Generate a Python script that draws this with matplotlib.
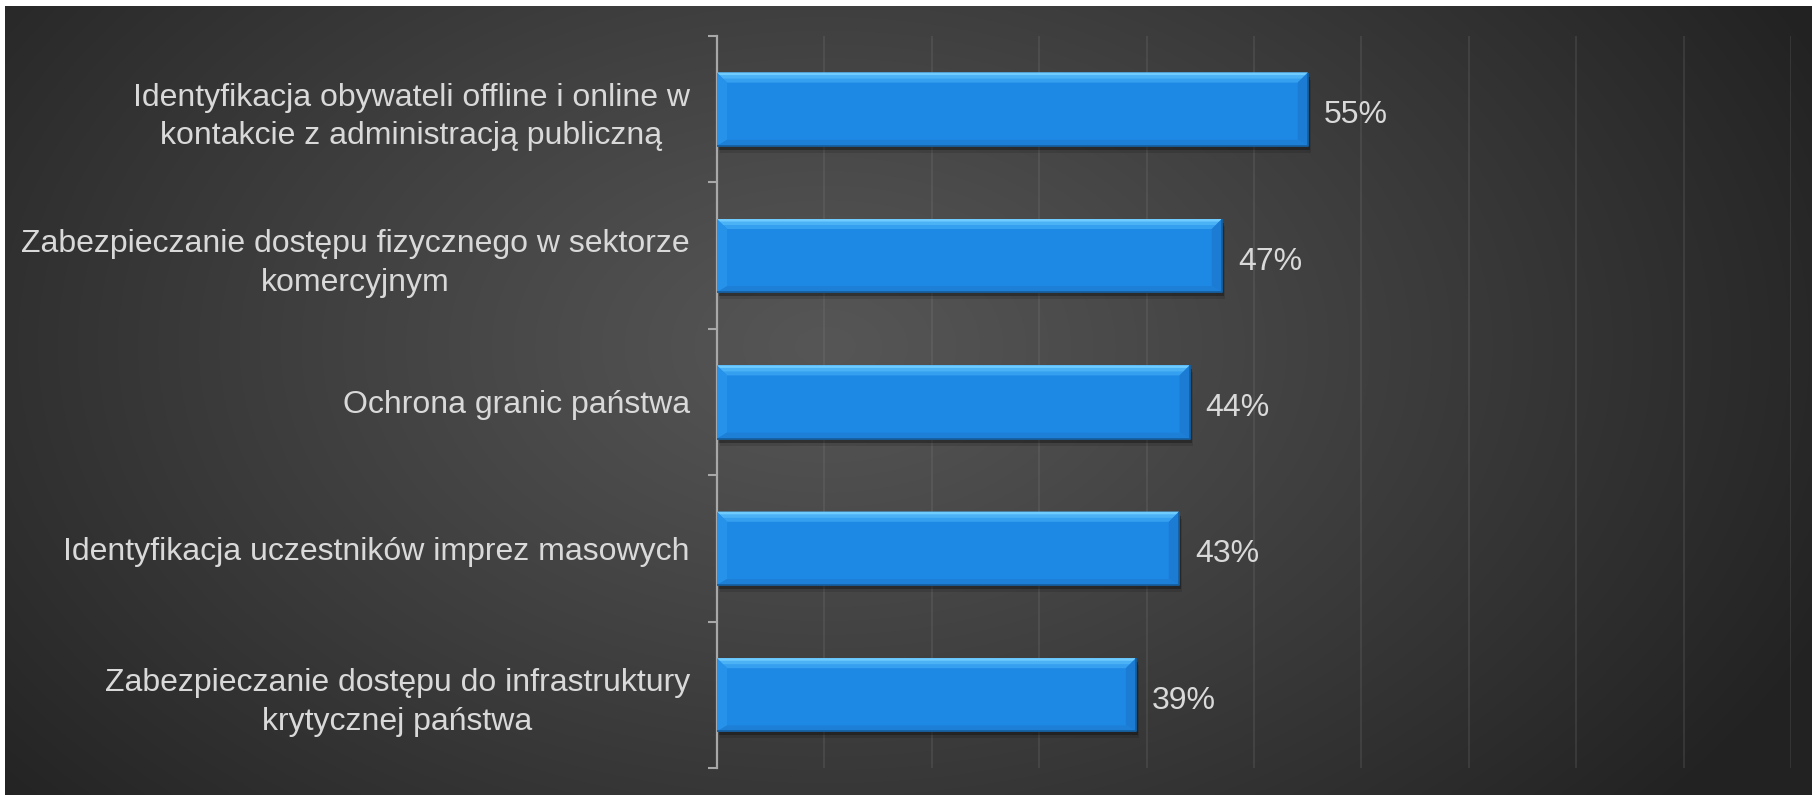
import numpy as np
import matplotlib
matplotlib.use("Agg")
import matplotlib.pyplot as plt
from matplotlib.patches import Polygon, Rectangle

categories = [
    "Identyfikacja obywateli offline i online w\nkontakcie z administracją publiczną",
    "Zabezpieczanie dostępu fizycznego w sektorze\nkomercyjnym",
    "Ochrona granic państwa",
    "Identyfikacja uczestników imprez masowych",
    "Zabezpieczanie dostępu do infrastruktury\nkrytycznej państwa",
]
values = [55, 47, 44, 43, 39]
value_labels = ["55%", "47%", "44%", "43%", "39%"]

W, H, DPI = 1812, 795, 100
plt.rcParams['font.family'] = ['Liberation Sans', 'DejaVu Sans']
fig = plt.figure(figsize=(W / DPI, H / DPI), dpi=DPI)
fig.patch.set_facecolor('white')

# background radial gradient panel
bx0, by0 = 5 / W, 0
bg = fig.add_axes([bx0, by0, 1 - bx0, (H - 6) / H])
bg.set_axis_off()
yy, xx = np.mgrid[0:H - 6, 0:W - 5]
cx, cy, rx, ry = 820.0, 340.0, 1100.0, 720.0
d = np.sqrt(((xx - cx) / rx) ** 2 + ((yy - cy) / ry) ** 2)
d = np.clip(d, 0, 1)
c = (86 - (86 - 34) * d ** 1.1) / 255.0
img = np.dstack([c, c, c])
bg.imshow(img, aspect='auto', interpolation='bilinear', extent=[0, 1, 1, 0])
bg.set_xlim(0, 1)
bg.set_ylim(1, 0)

# main axes
left, right, top, bottom = 717, 1791, 36, 768
ax = fig.add_axes([left / W, 1 - bottom / H, (right - left) / W, (bottom - top) / H])
ax.set_facecolor('none')

n = len(categories)
ypos = np.arange(n)
ax.set_xlim(0, 100)
ax.set_ylim(n - 0.5, -0.5)

ax.set_xticks(np.arange(0, 101, 10))
ax.tick_params(axis='x', length=0, labelbottom=False)
ax.grid(axis='x', color='#8a8a8a', alpha=0.2, lw=1.3)
ax.set_axisbelow(True)
for s in ['top', 'right', 'bottom']:
    ax.spines[s].set_visible(False)
ax.spines['left'].set_color('#a8a8a8')
ax.spines['left'].set_linewidth(1.6)

ax.set_yticks(ypos)
ax.set_yticklabels(categories, fontsize=23, color='#d9d9d9')
for lab in ax.get_yticklabels():
    lab.set_multialignment('center')
    lab.set_linespacing(1.38)
ax.tick_params(axis='y', which='major', length=0, pad=19.5)
ax.set_yticks(np.arange(n + 1) - 0.5, minor=True)
ax.tick_params(axis='y', which='minor', length=6.5, width=1.5, color='#a8a8a8', direction='out')

bars = ax.barh(ypos, values, height=0.5, color='#1e88e5', zorder=3)

pxx = 100 / (right - left)   # data units per pixel (x)
pxy = n / (bottom - top)      # data units per pixel (y)
bev_x = 10 * pxx
bev_y = 10 * pxy
for b in bars:
    x0, y0 = b.get_x(), b.get_y()
    w, h = b.get_width(), b.get_height()
    x1, y1 = x0 + w, y0 + h  # y0 top (inverted axis), y1 bottom
    # shadow
    ax.add_patch(Rectangle((x0 + 2 * pxx, y0 + 4 * pxy), w, h, color='black', alpha=0.3, zorder=2, lw=0))
    ax.add_patch(Rectangle((x0 + 3 * pxx, y0 + 7 * pxy), w, h, color='black', alpha=0.12, zorder=2, lw=0))
    # top bevel (two-step gradient)
    ax.add_patch(Polygon([(x0, y0), (x1, y0), (x1 - bev_x, y0 + bev_y), (x0 + bev_x, y0 + bev_y)],
                         closed=True, color='#35a0f0', lw=0, zorder=4))
    ax.add_patch(Polygon([(x0, y0), (x1, y0), (x1 - 6 * pxx, y0 + 6 * pxy), (x0 + 6 * pxx, y0 + 6 * pxy)],
                         closed=True, color='#4cb2f6', lw=0, zorder=4))
    ax.add_patch(Polygon([(x0, y0), (x1, y0), (x1 - 2.5 * pxx, y0 + 2.5 * pxy), (x0 + 2.5 * pxx, y0 + 2.5 * pxy)],
                         closed=True, color='#70ccff', lw=0, zorder=4))
    # left bevel
    ax.add_patch(Polygon([(x0, y0), (x0 + bev_x, y0 + bev_y), (x0 + bev_x, y1 - bev_y * 0.6), (x0, y1)],
                         closed=True, color='#2792ea', lw=0, zorder=4))
    # right bevel
    ax.add_patch(Polygon([(x1, y0), (x1 - bev_x, y0 + bev_y), (x1 - bev_x, y1 - bev_y * 0.6), (x1, y1)],
                         closed=True, color='#1c7cd4', lw=0, zorder=4))
    # bottom bevel
    ax.add_patch(Polygon([(x0, y1), (x1, y1), (x1 - bev_x, y1 - bev_y * 0.6), (x0 + bev_x, y1 - bev_y * 0.6)],
                         closed=True, color='#1d7fd6', lw=0, zorder=4))
    # dark outline right/bottom
    ax.plot([x0, x1, x1], [y1, y1, y0], color='#165f9f', lw=1.3, zorder=5, solid_capstyle='butt')

for b, lab in zip(bars, value_labels):
    ax.text(b.get_width() + 16 * pxx, b.get_y() + b.get_height() / 2 + 6 * pxy, lab,
            va='center', ha='left', fontsize=23, color='#d9d9d9', zorder=6)

fig.savefig('out.png', dpi=DPI, facecolor=fig.get_facecolor())
